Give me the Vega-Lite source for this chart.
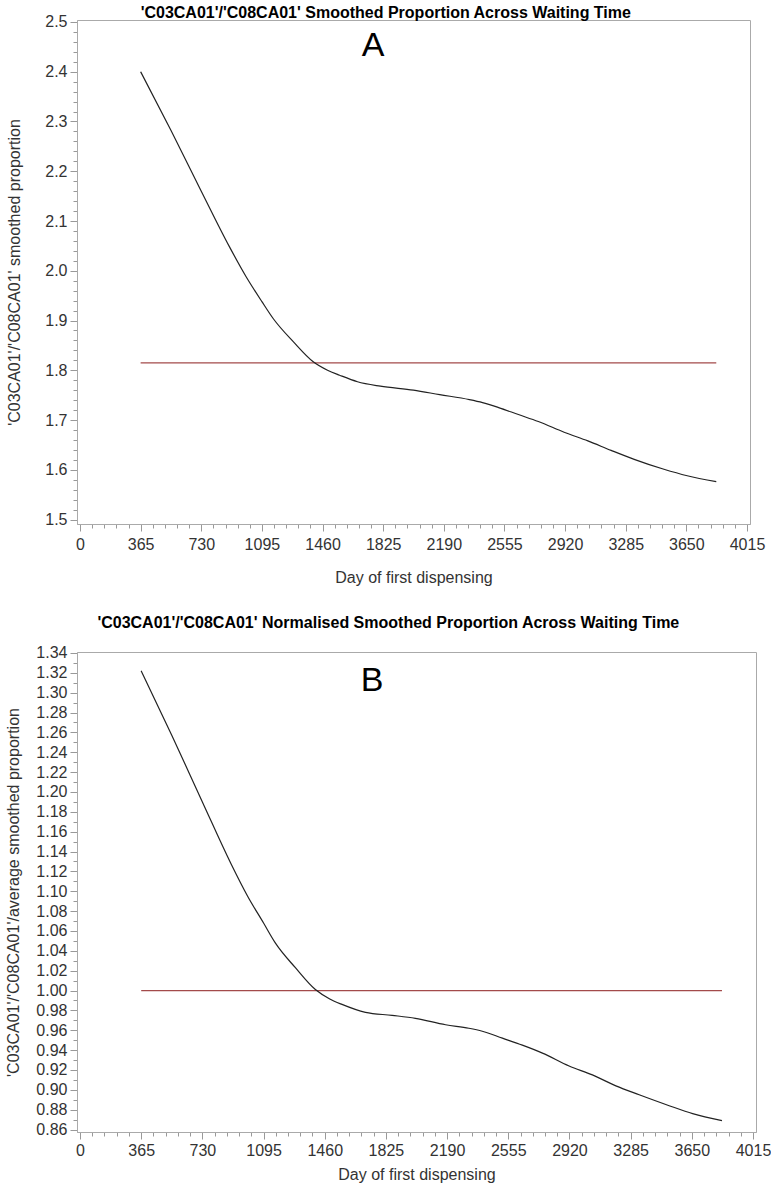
{
  "$schema": "https://vega.github.io/schema/vega-lite/v6.json",
  "padding": {"left": 5, "top": 4, "right": 0, "bottom": 0},
  "background": "white",
  "columns": 1,
  "align": "none",
  "spacing": 28,
  "config": {
    "font": "Liberation Sans",
    "view": {"stroke": "#aaaaaa", "strokeWidth": 1},
    "title": {"font": "Liberation Sans", "fontSize": 16, "fontWeight": "bold", "color": "#000000", "anchor": "middle", "frame": "bounds"},
    "axis": {
      "grid": false,
      "domainColor": "#aaaaaa",
      "tickColor": "#999999",
      "labelColor": "#333333",
      "titleColor": "#333333",
      "labelFont": "Liberation Sans",
      "titleFont": "Liberation Sans",
      "labelFontSize": 16,
      "titleFontSize": 16,
      "titleFontWeight": "normal",
      "labelOverlap": false,
      "labelPadding": 5
    }
  },
  "datasets": {
    "a": [
      {"day": 365, "v": 2.400},
      {"day": 548, "v": 2.282},
      {"day": 730, "v": 2.160},
      {"day": 900, "v": 2.048},
      {"day": 1000, "v": 1.988},
      {"day": 1095, "v": 1.938},
      {"day": 1165, "v": 1.903},
      {"day": 1285, "v": 1.857},
      {"day": 1404, "v": 1.817},
      {"day": 1490, "v": 1.800},
      {"day": 1563, "v": 1.790},
      {"day": 1670, "v": 1.777},
      {"day": 1808, "v": 1.768},
      {"day": 2007, "v": 1.760},
      {"day": 2165, "v": 1.751},
      {"day": 2344, "v": 1.741},
      {"day": 2423, "v": 1.735},
      {"day": 2520, "v": 1.725},
      {"day": 2639, "v": 1.711},
      {"day": 2759, "v": 1.697},
      {"day": 2918, "v": 1.675},
      {"day": 3057, "v": 1.658},
      {"day": 3197, "v": 1.639},
      {"day": 3336, "v": 1.621},
      {"day": 3515, "v": 1.601},
      {"day": 3655, "v": 1.588},
      {"day": 3830, "v": 1.576}
    ],
    "b": [
      {"day": 365, "v": 1.322},
      {"day": 548, "v": 1.257},
      {"day": 730, "v": 1.190},
      {"day": 900, "v": 1.128},
      {"day": 1000, "v": 1.095},
      {"day": 1095, "v": 1.068},
      {"day": 1165, "v": 1.048},
      {"day": 1285, "v": 1.023},
      {"day": 1404, "v": 1.001},
      {"day": 1490, "v": 0.9915},
      {"day": 1563, "v": 0.986},
      {"day": 1703, "v": 0.978},
      {"day": 1862, "v": 0.975},
      {"day": 2001, "v": 0.972},
      {"day": 2181, "v": 0.9655},
      {"day": 2320, "v": 0.962},
      {"day": 2400, "v": 0.959},
      {"day": 2520, "v": 0.952},
      {"day": 2639, "v": 0.945},
      {"day": 2759, "v": 0.937},
      {"day": 2918, "v": 0.924},
      {"day": 3057, "v": 0.915},
      {"day": 3197, "v": 0.904},
      {"day": 3336, "v": 0.895},
      {"day": 3515, "v": 0.884},
      {"day": 3655, "v": 0.876},
      {"day": 3830, "v": 0.869}
    ],
    "refA": [{"day": 365, "v": 1.815}, {"day": 3830, "v": 1.815}],
    "refB": [{"day": 365, "v": 1.0}, {"day": 3830, "v": 1.0}],
    "labA": [{"day": 1764, "v": 2.452, "t": "A"}],
    "labB": [{"day": 1742, "v": 1.312, "t": "B"}]
  },
  "concat": [
    {
      "title": {"text": "'C03CA01'/'C08CA01' Smoothed Proportion Across Waiting Time", "offset": -7},
      "width": 673,
      "height": 504,
      "encoding": {
        "x": {"field": "day", "type": "quantitative",
          "scale": {"domain": [-18, 4033], "nice": false, "zero": false},
          "axis": {
            "title": "Day of first dispensing",
            "titlePadding": 17,
            "values": [0,73,146,219,292,365,438,511,584,657,730,803,876,949,1022,1095,1168,1241,1314,1387,1460,1533,1606,1679,1752,1825,1898,1971,2044,2117,2190,2263,2336,2409,2482,2555,2628,2701,2774,2847,2920,2993,3066,3139,3212,3285,3358,3431,3504,3577,3650,3723,3796,3869,3942,4015],
            "labelExpr": "datum.value % 365 === 0 ? format(datum.value, 'd') : ''",
            "tickSize": {"condition": {"test": "datum.value % 365 === 0", "value": 7}, "value": 4}
          }},
        "y": {"field": "v", "type": "quantitative",
          "scale": {"domain": [1.491, 2.504], "nice": false, "zero": false},
          "axis": {
            "title": "'C03CA01'/'C08CA01' smoothed proportion",
            "titlePadding": 22,
            "labelPadding": 3,
            "values": [1.5,1.52,1.54,1.56,1.58,1.6,1.62,1.64,1.66,1.68,1.7,1.72,1.74,1.76,1.78,1.8,1.82,1.84,1.86,1.88,1.9,1.92,1.94,1.96,1.98,2.0,2.02,2.04,2.06,2.08,2.1,2.12,2.14,2.16,2.18,2.2,2.22,2.24,2.26,2.28,2.3,2.32,2.34,2.36,2.38,2.4,2.42,2.44,2.46,2.48,2.5],
            "labelExpr": "abs(datum.value * 10 - round(datum.value * 10)) < 0.001 ? format(datum.value, '.1f') : ''",
            "tickSize": {"condition": {"test": "abs(datum.value * 10 - round(datum.value * 10)) < 0.001", "value": 7}, "value": 4}
          }}
      },
      "layer": [
        {"data": {"name": "refA"}, "mark": {"type": "line", "color": "#a34a4a", "strokeWidth": 1.3}},
        {"data": {"name": "a"}, "mark": {"type": "line", "color": "#222222", "strokeWidth": 1.2, "interpolate": "monotone"}},
        {"data": {"name": "labA"}, "mark": {"type": "text", "fontSize": 34, "font": "Liberation Sans", "color": "#000000", "baseline": "middle", "align": "center"},
          "encoding": {"text": {"field": "t", "type": "nominal"}}}
      ]
    },
    {
      "title": {"text": "'C03CA01'/'C08CA01' Normalised Smoothed Proportion Across Waiting Time", "offset": 14},
      "width": 679,
      "height": 480,
      "encoding": {
        "x": {"field": "day", "type": "quantitative",
          "scale": {"domain": [-18, 4033], "nice": false, "zero": false},
          "axis": {
            "title": "Day of first dispensing",
            "titlePadding": 8,
            "labelPadding": 3,
            "values": [0,73,146,219,292,365,438,511,584,657,730,803,876,949,1022,1095,1168,1241,1314,1387,1460,1533,1606,1679,1752,1825,1898,1971,2044,2117,2190,2263,2336,2409,2482,2555,2628,2701,2774,2847,2920,2993,3066,3139,3212,3285,3358,3431,3504,3577,3650,3723,3796,3869,3942,4015],
            "labelExpr": "datum.value % 365 === 0 ? format(datum.value, 'd') : ''",
            "tickSize": {"condition": {"test": "datum.value % 365 === 0", "value": 7}, "value": 4}
          }},
        "y": {"field": "v", "type": "quantitative",
          "scale": {"domain": [0.8575, 1.341], "nice": false, "zero": false},
          "axis": {
            "title": "'C03CA01'/'C08CA01'/average smoothed proportion",
            "titlePadding": 14,
            "labelPadding": 3,
            "values": [0.86,0.87,0.88,0.89,0.9,0.91,0.92,0.93,0.94,0.95,0.96,0.97,0.98,0.99,1.0,1.01,1.02,1.03,1.04,1.05,1.06,1.07,1.08,1.09,1.1,1.11,1.12,1.13,1.14,1.15,1.16,1.17,1.18,1.19,1.2,1.21,1.22,1.23,1.24,1.25,1.26,1.27,1.28,1.29,1.3,1.31,1.32,1.33,1.34],
            "labelExpr": "abs(datum.value * 50 - round(datum.value * 50)) < 0.001 ? format(datum.value, '.2f') : ''",
            "tickSize": {"condition": {"test": "abs(datum.value * 50 - round(datum.value * 50)) < 0.001", "value": 7}, "value": 4}
          }}
      },
      "layer": [
        {"data": {"name": "refB"}, "mark": {"type": "line", "color": "#a34a4a", "strokeWidth": 1.3}},
        {"data": {"name": "b"}, "mark": {"type": "line", "color": "#222222", "strokeWidth": 1.2, "interpolate": "monotone"}},
        {"data": {"name": "labB"}, "mark": {"type": "text", "fontSize": 34, "font": "Liberation Sans", "color": "#000000", "baseline": "middle", "align": "center"},
          "encoding": {"text": {"field": "t", "type": "nominal"}}}
      ]
    }
  ]
}
